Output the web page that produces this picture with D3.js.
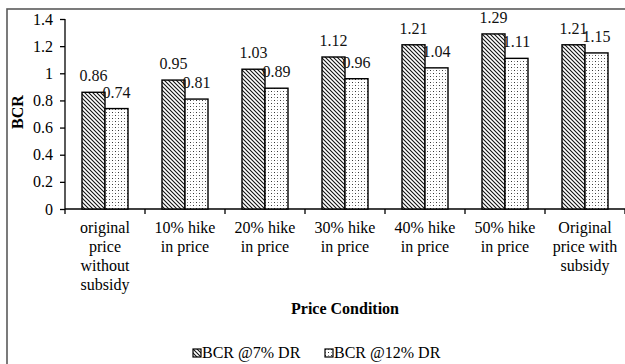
<!DOCTYPE html>
<html>
<head>
<meta charset="utf-8">
<script src="https://cdn.jsdelivr.net/npm/d3@7/dist/d3.min.js"></script>
<style>
  html, body { margin: 0; padding: 0; background: #fff; }
  svg { display: block; }
</style>
</head>
<body>
<svg id="chart" width="625" height="364"></svg>
<script>
// Benefit-cost ratio under different price conditions
const categories = [
  ["original", "price", "without", "subsidy"],
  ["10% hike", "in price"],
  ["20% hike", "in price"],
  ["30% hike", "in price"],
  ["40% hike", "in price"],
  ["50% hike", "in price"],
  ["Original", "price with", "subsidy"]
];
const seriesNames = ["BCR @7% DR", "BCR @12% DR"];
const bcr7 = [0.86, 0.95, 1.03, 1.12, 1.21, 1.29, 1.21];
const bcr12 = [0.74, 0.81, 0.89, 0.96, 1.04, 1.11, 1.15];
const yTicks = [0, 0.2, 0.4, 0.6, 0.8, 1, 1.2, 1.4];

const FONT = "'Liberation Serif', 'Times New Roman', Times, serif";

const svg = d3.select("#chart").style("font-family", FONT);
const defs = svg.append("defs");

// diagonal hatch fill
const hatch = defs.append("pattern")
  .attr("id", "hatch").attr("patternUnits", "userSpaceOnUse")
  .attr("width", 4).attr("height", 4);
hatch.append("rect").attr("width", 4).attr("height", 4).attr("fill", "#fff");
hatch.append("path")
  .attr("d", "M-1,-1L5,5M-1,3L1,5M3,-1L5,1")
  .attr("stroke", "#111").attr("stroke-width", 1.1);

// sparse dot fill
const dots = defs.append("pattern")
  .attr("id", "dots").attr("patternUnits", "userSpaceOnUse")
  .attr("width", 6).attr("height", 6);
dots.append("rect").attr("width", 6).attr("height", 6).attr("fill", "#fff");
dots.append("rect").attr("x", 1).attr("y", 1).attr("width", 1).attr("height", 1).attr("fill", "#333");
dots.append("rect").attr("x", 4).attr("y", 4).attr("width", 1).attr("height", 1).attr("fill", "#333");
dots.append("rect").attr("x", 1).attr("y", 4).attr("width", 1).attr("height", 1).attr("fill", "#999");
dots.append("rect").attr("x", 4).attr("y", 1).attr("width", 1).attr("height", 1).attr("fill", "#999");

const fills = ["url(#hatch)", "url(#dots)"];

// outer chart frame
svg.append("rect")
  .attr("x", 7).attr("y", 9).attr("width", 640).attr("height", 380)
  .attr("fill", "none").attr("stroke", "#5a5a5a").attr("stroke-width", 1.6);

const plotLeft = 65;
const plotTop = 19;
const plotRight = 625;
const plotBottom = 209;

const x = d3.scaleBand()
  .domain(d3.range(categories.length))
  .range([plotLeft, plotLeft + 80 * categories.length])
  .paddingInner(0).paddingOuter(0);

const y = d3.scaleLinear().domain([0, 1.4]).range([plotBottom, plotTop]);

const barW = 23;
const xs = d3.scaleBand().domain([0, 1]).range([0, barW * 2]);

// y axis
const yAxis = svg.append("g")
  .attr("transform", `translate(${plotLeft},0)`)
  .call(d3.axisLeft(y).tickValues(yTicks).tickSize(5).tickPadding(7)
    .tickFormat(d => d3.format("~g")(d)));
yAxis.attr("font-family", null).style("font-family", FONT);
yAxis.select(".domain").attr("stroke", "#000").attr("stroke-width", 1.3)
  .attr("d", `M0,${y(1.4)}V${plotBottom}`);
yAxis.selectAll(".tick line").attr("stroke", "#000").attr("stroke-width", 1.3);
yAxis.selectAll(".tick text").attr("font-size", 16).attr("fill", "#000");

// x axis
const xAxis = svg.append("g")
  .attr("transform", `translate(0,${plotBottom})`);
xAxis.append("line")
  .attr("x1", plotLeft).attr("x2", plotRight + 2)
  .attr("stroke", "#000").attr("stroke-width", 1.3);
xAxis.selectAll("line.tick")
  .data(d3.range(categories.length + 1))
  .join("line").attr("class", "tick")
  .attr("x1", d => plotLeft + x.step() * d).attr("x2", d => plotLeft + x.step() * d)
  .attr("y1", 0).attr("y2", 5)
  .attr("stroke", "#000").attr("stroke-width", 1.3);

// category labels
const catG = svg.append("g").attr("font-size", 16).attr("fill", "#000").attr("text-anchor", "middle");
categories.forEach((lines, i) => {
  const cx = x(i) + x.bandwidth() / 2;
  const t = catG.append("text").attr("x", cx).attr("y", 233);
  lines.forEach((ln, j) => {
    t.append("tspan").attr("x", cx).attr("dy", j === 0 ? 0 : 19).text(ln);
  });
});

// bars
const series = [bcr7, bcr12];
const groups = svg.append("g");
series.forEach((vals, s) => {
  groups.selectAll(null)
    .data(vals)
    .join("rect")
    .attr("x", (d, i) => x(i) + (x.bandwidth() - barW * 2) / 2 + xs(s))
    .attr("y", d => y(d))
    .attr("width", barW)
    .attr("height", d => plotBottom - y(d))
    .attr("fill", fills[s])
    .attr("stroke", "#000").attr("stroke-width", 1.4);
});

// value labels
series.forEach((vals, s) => {
  svg.append("g").attr("font-size", 16).attr("text-anchor", "middle").attr("fill", "#111")
    .selectAll("text")
    .data(vals)
    .join("text")
    .attr("x", (d, i) => x(i) + (x.bandwidth() - barW * 2) / 2 + xs(s) + barW / 2)
    .attr("y", d => y(d) - 11)
    .text(d => d3.format(".2f")(d));
});

// axis titles
svg.append("text")
  .attr("transform", `translate(23,112) rotate(-90)`)
  .attr("text-anchor", "middle").attr("font-size", 16).attr("font-weight", "bold")
  .text("BCR");
svg.append("text")
  .attr("x", 345).attr("y", 314)
  .attr("text-anchor", "middle").attr("font-size", 16).attr("font-weight", "bold")
  .text("Price Condition");

// legend
const legendItems = [{ x: 193, name: seriesNames[0], fill: fills[0] },
                     { x: 325, name: seriesNames[1], fill: fills[1] }];
const lg = svg.append("g");
legendItems.forEach(it => {
  lg.append("rect").attr("x", it.x).attr("y", 349).attr("width", 8).attr("height", 8)
    .attr("fill", it.fill).attr("stroke", "#000").attr("stroke-width", 1.2);
  lg.append("text").attr("x", it.x + 9).attr("y", 358).attr("font-size", 16).text(it.name);
});
</script>
</body>
</html>
